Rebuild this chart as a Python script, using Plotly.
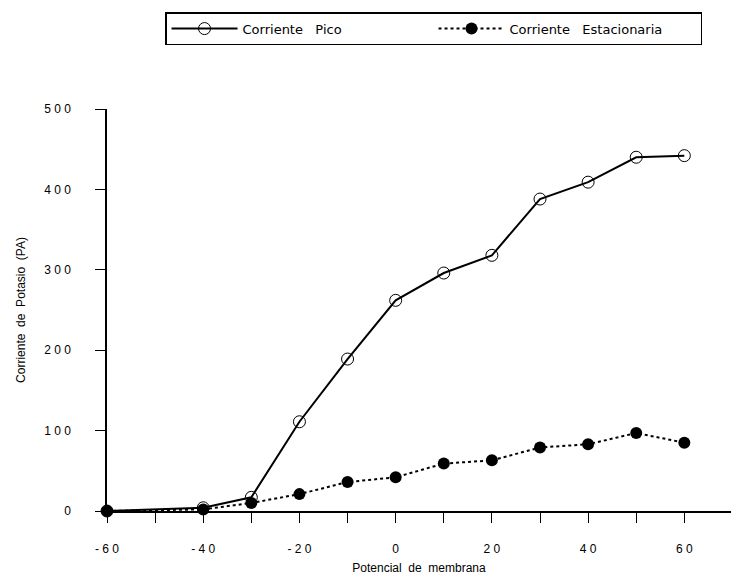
import plotly.graph_objects as go

potencial = [-60, -40, -30, -20, -10, 0, 10, 20, 30, 40, 50, 60]
corriente_pico = [0, 4, 17, 111, 189, 262, 296, 318, 388, 409, 440, 442]
corriente_estacionaria = [0, 2, 10, 21, 36, 42, 59, 63, 79, 83, 97, 85]

x_tickvals = [-60, -50, -40, -30, -20, -10, 0, 10, 20, 30, 40, 50, 60]
x_ticktext = ["- 6 0", "", "- 4 0", "", "- 2 0", "", "0", "", "2 0", "", "4 0", "", "6 0"]
y_tickvals = [0, 100, 200, 300, 400, 500]
y_ticktext = ["0", "1 0 0", "2 0 0", "3 0 0", "4 0 0", "5 0 0"]

fig = go.Figure()
fig.add_trace(go.Scatter(
    x=potencial, y=corriente_pico, mode="lines+markers",
    name="Corriente   Pico",
    line=dict(color="black", width=2),
    marker=dict(symbol="circle-open", size=12, color="black", line=dict(width=1)),
    cliponaxis=False,
))
fig.add_trace(go.Scatter(
    x=potencial, y=corriente_estacionaria, mode="lines+markers",
    name="Corriente   Estacionaria",
    line=dict(color="black", width=2, dash="dot"),
    marker=dict(symbol="circle", size=12, color="black"),
    cliponaxis=False,
))

fig.update_layout(
    width=731, height=578,
    margin=dict(l=107, r=0, t=109, b=67),
    paper_bgcolor="white", plot_bgcolor="white",
    font=dict(family="Liberation Sans, Arial, sans-serif", color="black", size=12),
    showlegend=True,
    legend=dict(
        orientation="h", x=0.093, y=1.241, xanchor="left", yanchor="top",
        bordercolor="black", borderwidth=1.5, bgcolor="white",
        font=dict(size=13, family="DejaVu Sans, sans-serif"),
        entrywidth=186, itemwidth=66,
    ),
    xaxis=dict(
        range=[-60, 69.7], showgrid=False, zeroline=False,
        showline=True, linecolor="black", linewidth=1.5,
        ticks="outside", ticklen=10, tickcolor="black",
        tickvals=x_tickvals, ticktext=x_ticktext,
        ticklabelstandoff=16,
        tickfont=dict(size=12),
        title=dict(text="Potencial  de  membrana", standoff=8, font=dict(size=12)),
    ),
    yaxis=dict(
        range=[0, 500], showgrid=False, zeroline=False,
        showline=True, linecolor="black", linewidth=1.5,
        ticks="outside", ticklen=10, tickcolor="black",
        tickvals=y_tickvals, ticktext=y_ticktext,
        ticklabelstandoff=22,
        tickfont=dict(size=12),
        title=dict(text="Corriente  de  Potasio  (PA)", standoff=16, font=dict(size=12)),
    ),
)

fig.write_html("out.html")
